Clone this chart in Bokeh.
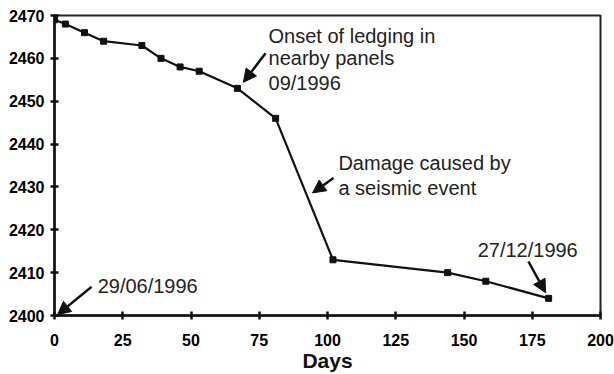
from bokeh.plotting import figure
from bokeh.models import Arrow, NormalHead, Range1d, FixedTicker, ColumnDataSource
from bokeh.core.properties import value
from bokeh.embed import file_html
from bokeh.resources import INLINE

# Data
days = [0, 4, 11, 18, 32, 39, 46, 53, 67, 81, 102, 144, 158, 181]
levels = [2469, 2468, 2466, 2464, 2463, 2460, 2458, 2457, 2453, 2446, 2413, 2410, 2408, 2404]
x_ticks = [0, 25, 50, 75, 100, 125, 150, 175, 200]
y_ticks = [2400, 2410, 2420, 2430, 2440, 2450, 2460, 2470]
x_title = "Days"

# Annotation texts (data coordinates)
note_text = ["Onset of ledging in", "nearby panels", "09/1996",
             "Damage caused by", "a seismic event", "29/06/1996", "27/12/1996"]
note_x = [78.4, 78.4, 78.4, 104.0, 104.0, 15.8, 155.0]
note_y = [2465.3, 2460.0, 2454.2, 2435.6, 2429.8, 2407.0, 2415.3]

# Arrows (start -> end, data coordinates)
arrow_x0 = [77.3, 102.2, 13.6, 173.6]
arrow_y0 = [2461.2, 2432.1, 2406.7, 2412.6]
arrow_x1 = [69.2, 94.5, 1.1, 179.9]
arrow_y1 = [2454.4, 2428.6, 2400.2, 2405.3]

p = figure(width=614, height=374, output_backend="svg", toolbar_location=None,
           x_range=Range1d(0, 200), y_range=Range1d(2400, 2470),
           min_border_left=54, min_border_top=15, min_border_right=14, min_border_bottom=58)
p.background_fill_color = "white"
p.border_fill_color = "white"
p.outline_line_color = "#222222"
p.outline_line_width = 2
p.xgrid.visible = False
p.ygrid.visible = False

for axes in (p.xaxis, p.yaxis):
    axes.axis_line_width = 2.5
    axes.axis_line_color = "#111111"
    axes.major_tick_line_width = 2.5
    axes.major_tick_line_color = "#111111"
    axes.major_tick_in = 4
    axes.major_tick_out = 4
    axes.minor_tick_line_color = None
    axes.major_label_text_font = "Liberation Sans"
    axes.major_label_text_font_style = "bold"
    axes.major_label_text_font_size = "16px"
    axes.major_label_text_color = "#000000"

p.xaxis.ticker = FixedTicker(ticks=x_ticks)
p.yaxis.ticker = FixedTicker(ticks=y_ticks)
p.xaxis.major_label_standoff = 14
p.yaxis.major_label_standoff = 6
p.xaxis.axis_label = x_title
p.xaxis.axis_label_text_font = "Liberation Sans"
p.xaxis.axis_label_text_font_style = "bold"
p.xaxis.axis_label_text_font_size = "21px"
p.xaxis.axis_label_text_color = "#111111"
p.xaxis.axis_label_standoff = 0

src = ColumnDataSource(dict(x=days, y=levels))
p.line("x", "y", source=src, line_color="#111111", line_width=2.2)
p.scatter("x", "y", source=src, marker="square", size=6, fill_color="#111111", line_color="#111111")

tsrc = ColumnDataSource(dict(x=note_x, y=note_y, t=note_text))
p.text("x", "y", text="t", source=tsrc, text_font=value("Liberation Sans"),
       text_font_size="20px", text_color="#222222", text_baseline="middle", text_align="left")

for x0, y0, x1, y1 in zip(arrow_x0, arrow_y0, arrow_x1, arrow_y1):
    p.add_layout(Arrow(end=NormalHead(size=13, fill_color="#111111", line_color="#111111"),
                       x_start=x0, y_start=y0, x_end=x1, y_end=y1,
                       line_width=2.5, line_color="#111111"))

open("out.html", "w").write(file_html(p, INLINE))
